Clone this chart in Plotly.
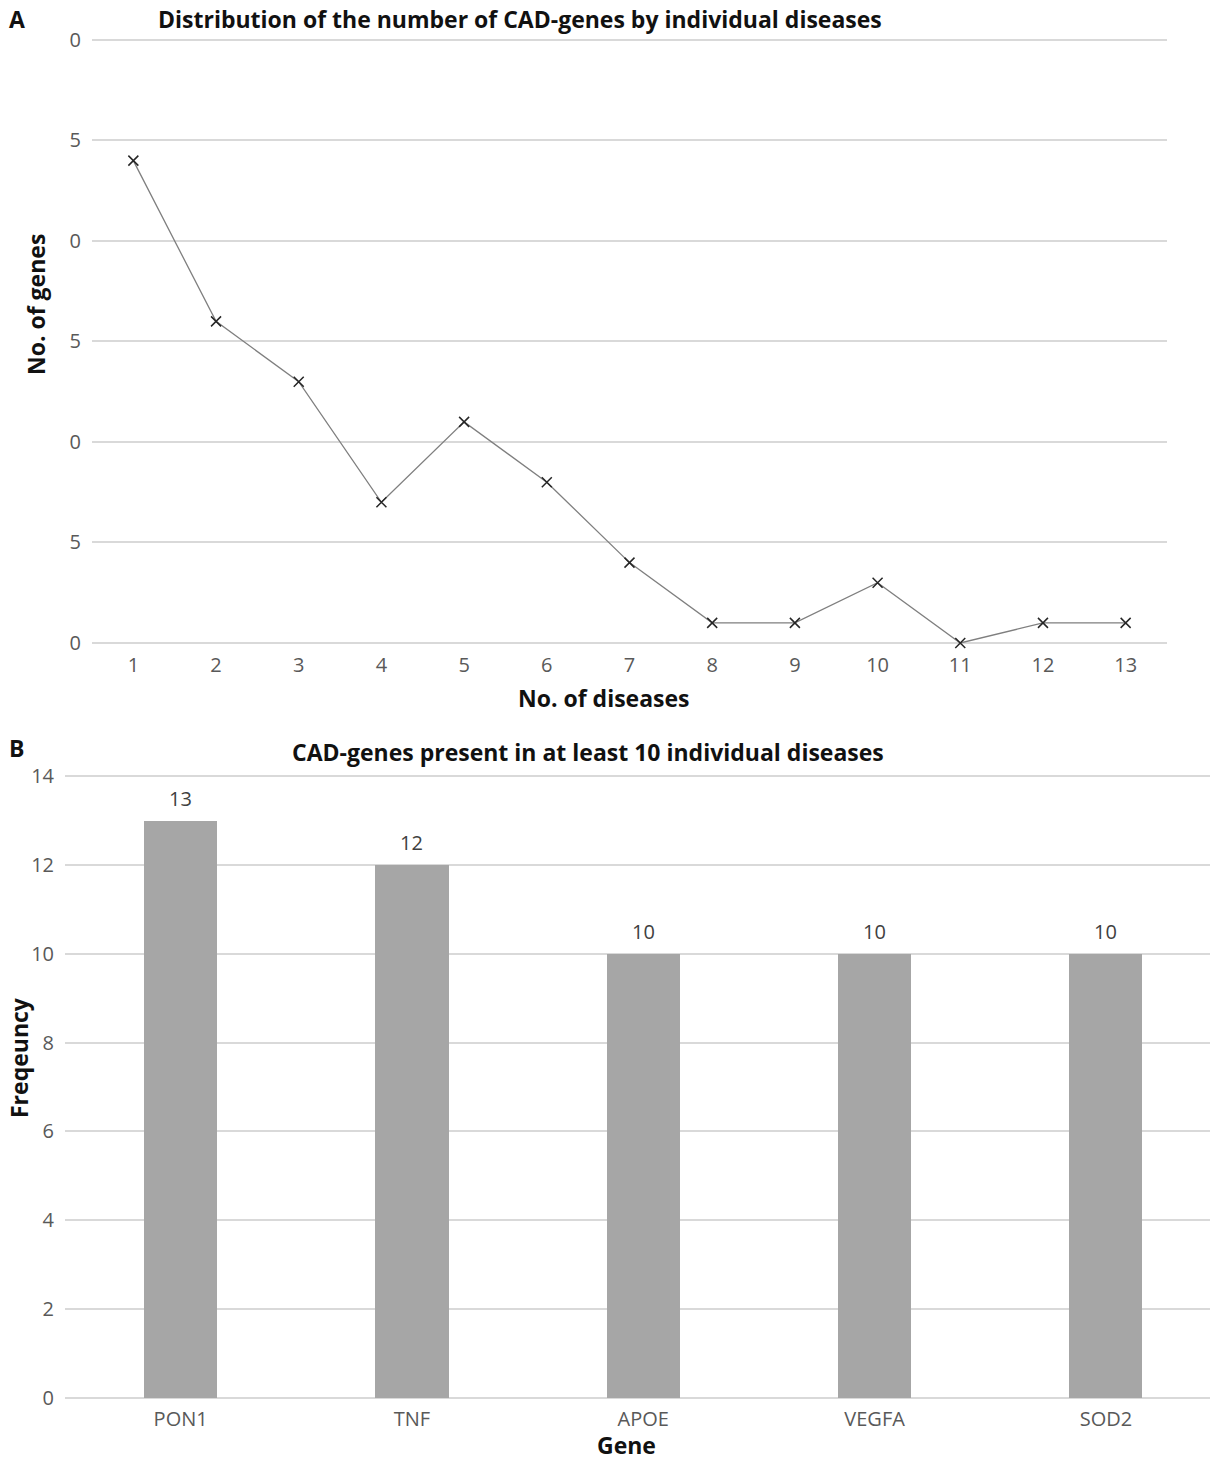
import plotly.graph_objects as go

# Panel A data
diseases = list(range(1, 14))
genes = [24, 16, 13, 7, 11, 8, 4, 1, 1, 3, 0, 1, 1]
a_tickvals = [0, 5, 10, 15, 20, 25, 30]
a_ticktext = ["0", "5", "0", "5", "0", "5", "0"]

# Panel B data
gene_names = ["PON1", "TNF", "APOE", "VEGFA", "SOD2"]
frequency = [13, 12, 10, 10, 10]
b_tickvals = [0, 2, 4, 6, 8, 10, 12, 14]

W, H = 1210, 1463
FONT = "Open Sans"
TICK_COLOR = "#595959"
GRID = "#d9d9d9"

def px_x(p):
    return p / W

def px_y(p):
    return 1 - p / H

fig = go.Figure()

fig.add_trace(go.Scatter(
    x=diseases, y=genes, mode="lines+markers",
    line=dict(color="#7f7f7f", width=1.3),
    marker=dict(symbol="x-thin", size=10, line=dict(color="#262626", width=1.5), color="#262626"),
    xaxis="x", yaxis="y", showlegend=False, cliponaxis=False,
))

b_x = list(range(len(gene_names)))
fig.add_trace(go.Bar(
    x=b_x, y=frequency, width=0.316,
    marker=dict(color="#a6a6a6", line=dict(width=0)),
    xaxis="x2", yaxis="y2", showlegend=False,
))
for xi, v in zip(b_x, frequency):
    fig.add_annotation(
        x=xi, y=v, xref="x2", yref="y2", text=str(v), showarrow=False,
        yanchor="middle", yshift=22,
        font=dict(family=FONT, size=20, color="#404040"),
    )

axis_common = dict(showline=False, ticks="", zeroline=False, automargin=False)

# small range padding so the end gridlines are drawn; domains padded to match
A_PAD, B_PAD = 0.15, 0.1
A_PX = (643 - 40) / 30
B_PX = (1398 - 776) / 14

fig.update_layout(
    width=W, height=H,
    margin=dict(l=0, r=0, t=0, b=0, pad=0, autoexpand=False),
    paper_bgcolor="white", plot_bgcolor="white",
    font=dict(family=FONT, color=TICK_COLOR),
    bargap=0,
    xaxis=dict(
        domain=[px_x(92), px_x(1167)], anchor="y",
        range=[0.5, 13.5], tickvals=diseases, ticktext=[str(d) for d in diseases],
        showgrid=False, tickfont=dict(family=FONT, size=20, color=TICK_COLOR),
        ticklabelstandoff=5, **axis_common,
    ),
    yaxis=dict(
        domain=[px_y(643 + A_PAD * A_PX), px_y(40 - A_PAD * A_PX)], anchor="x",
        range=[-A_PAD, 30 + A_PAD], tickvals=a_tickvals, ticktext=a_ticktext,
        showgrid=True, gridcolor=GRID, gridwidth=1.5,
        tickfont=dict(family=FONT, size=20, color=TICK_COLOR), ticklabelstandoff=10,
        **axis_common,
    ),
    xaxis2=dict(
        domain=[px_x(65), 1.0], anchor="y2",
        range=[-0.5, 4.45], tickvals=b_x, ticktext=gene_names,
        showgrid=False, tickfont=dict(family=FONT, size=20, color=TICK_COLOR),
        ticklabelstandoff=3, **axis_common,
    ),
    yaxis2=dict(
        domain=[px_y(1398 + B_PAD * B_PX), px_y(776 - B_PAD * B_PX)], anchor="x2",
        range=[-B_PAD, 14 + B_PAD], tickvals=b_tickvals,
        showgrid=True, gridcolor=GRID, gridwidth=1.5,
        tickfont=dict(family=FONT, size=20, color=TICK_COLOR), ticklabelstandoff=10,
        **axis_common,
    ),
)

def ann(text, x, y, size=23, angle=0, xanchor="center", yanchor="middle", color="#111111"):
    fig.add_annotation(
        text=f"<b>{text}</b>", x=px_x(x), y=px_y(y), xref="paper", yref="paper",
        showarrow=False, xanchor=xanchor, yanchor=yanchor, textangle=angle,
        borderpad=0, font=dict(family=FONT, size=size, color=color),
    )

ann("A", 8, 19, size=23, xanchor="left")
ann("Distribution of the number of CAD-genes by individual diseases", 520, 19)
ann("No. of genes", 36, 305, angle=-90)
ann("No. of diseases", 604, 698)

ann("B", 8, 748, size=23, xanchor="left")
ann("CAD-genes present in at least 10 individual diseases", 588, 752)
ann("Freqeuncy", 19, 1058, angle=-90)
ann("Gene", 626, 1462, yanchor="bottom")

fig.write_html(
    "out.html",
    config={"displayModeBar": False},
    post_script="document.body.style.margin='0';",
)
